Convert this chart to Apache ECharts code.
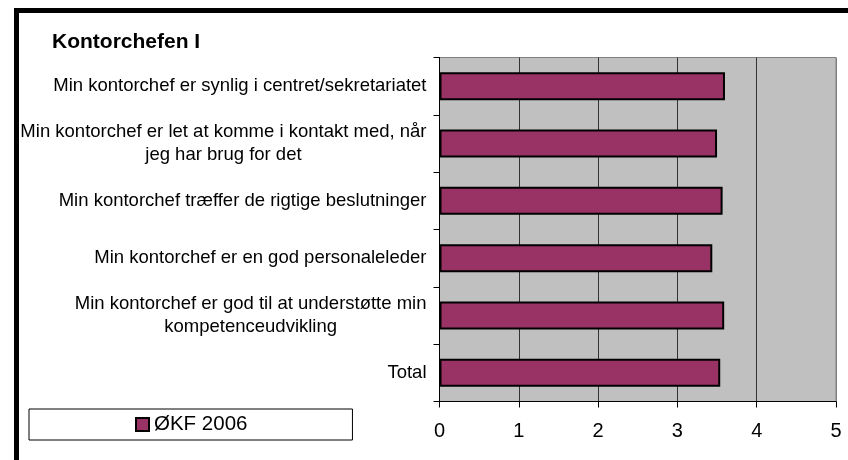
<!DOCTYPE html>
<html>
<head>
<meta charset="utf-8">
<script src="https://cdn.jsdelivr.net/npm/echarts@6/dist/echarts.min.js"></script>
<style>
  html, body { margin: 0; padding: 0; background: #fff; }
  #chart { width: 848px; height: 460px; }
</style>
</head>
<body>
<div id="chart"></div>
<script>
const categories = [
    'Min kontorchef er synlig i centret/sekretariatet',
    'Min kontorchef er let at komme i kontakt med, når\njeg har brug for det',
    'Min kontorchef træffer de rigtige beslutninger',
    'Min kontorchef er en god personaleleder',
    'Min kontorchef er god til at understøtte min\nkompetenceudvikling',
    'Total',
];
const values = [3.60, 3.50, 3.57, 3.44, 3.59, 3.54];
const seriesName = 'ØKF 2006';
const titleText = 'Kontorchefen I';

const font = "'Liberation Sans', Arial, sans-serif";
const chart = echarts.init(document.getElementById('chart'));

chart.setOption({
    animation: false,
    backgroundColor: '#fff',
    title: {
        text: titleText,
        left: 52,
        top: 32,
        padding: 0,
        textStyle: { fontFamily: font, fontSize: 21, fontWeight: 'bold', color: '#000' },
    },
    graphic: [
        {
            type: 'rect',
            shape: { x: 16.5, y: 10.5, width: 900, height: 500 },
            style: { fill: 'none', stroke: '#000', lineWidth: 5 },
            silent: true,
        },
    ],
    legend: {
        left: 29,
        top: 409,
        padding: [5, 105, 5, 106],
        borderColor: '#000',
        borderWidth: 1,
        itemWidth: 13,
        itemHeight: 13,
        icon: 'rect',
        itemStyle: { borderColor: '#000', borderWidth: 2 },
        textStyle: { fontFamily: font, fontSize: 20.5, color: '#000', padding: [0, 0, 0, 0] },
        data: [seriesName],
    },
    grid: {
        left: 439.5,
        right: 12,
        top: 57.5,
        bottom: 58.5,
        show: true,
        backgroundColor: '#c0c0c0',
        borderColor: '#808080',
        borderWidth: 1,
    },
    xAxis: {
        type: 'value',
        min: 0,
        max: 5,
        interval: 1,
        axisLine: { show: true, lineStyle: { color: '#000', width: 1 } },
        axisTick: { show: true, length: 6, lineStyle: { color: '#000' } },
        axisLabel: { margin: 20, fontFamily: font, fontSize: 20, color: '#000' },
        splitLine: {
            show: true,
            lineStyle: { color: ['#000', '#333', '#333', '#333', '#333', '#808080'], width: 1 },
        },
    },
    yAxis: {
        type: 'category',
        inverse: true,
        data: categories,
        axisLine: { show: true, lineStyle: { color: '#000', width: 1 } },
        axisTick: { show: true, length: 6, alignWithLabel: false, lineStyle: { color: '#000' } },
        axisLabel: {
            margin: 13,
            interval: 0,
            formatter: (v) => v.split('\n').map((s) => '{c|' + s + '}').join('\n'),
            rich: {
                c: { align: 'center', fontFamily: font, fontSize: 18.5, lineHeight: 22.5, color: '#000' },
            },
        },
        splitLine: { show: false },
    },
    series: [
        {
            name: seriesName,
            type: 'bar',
            data: values,
            barWidth: 28,
            itemStyle: { color: '#993366', borderColor: '#000', borderWidth: 2 },
        },
    ],
});
</script>
</body>
</html>
